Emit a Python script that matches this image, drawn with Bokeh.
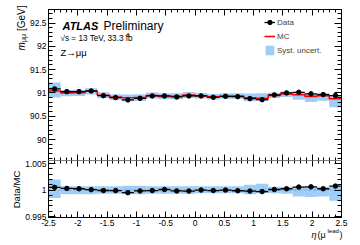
import numpy as np
from bokeh.plotting import figure
from bokeh.models import (LinearAxis, FixedTicker, CustomJSTickFormatter, Label,
                          Legend, LegendItem, ColumnDataSource, Range1d,
                          CustomLabelingPolicy)
from bokeh.layouts import column
from bokeh.embed import file_html
from bokeh.resources import INLINE

# ---------------- data ----------------
eta_edges = [-2.5, -2.2917, -2.0833, -1.875, -1.6667, -1.4583, -1.25, -1.0417,
             -0.8333, -0.625, -0.4167, -0.2083, 0.0, 0.2083, 0.4167, 0.625,
             0.8333, 1.0417, 1.25, 1.4583, 1.6667, 1.875, 2.0833, 2.2917, 2.5]
m_data = [91.086, 91.028, 91.028, 91.043, 90.942, 90.900, 90.850, 90.884,
          90.936, 90.936, 90.914, 90.936, 90.936, 90.906, 90.927, 90.920,
          90.878, 90.856, 90.957, 91.000, 91.013, 90.980, 90.964, 90.943]
m_mc = [91.040, 91.000, 91.006, 91.037, 90.950, 90.910, 90.895, 90.900,
        90.945, 90.927, 90.930, 90.954, 90.936, 90.915, 90.927, 90.932,
        90.896, 90.883, 90.948, 90.978, 90.962, 90.925, 90.942, 90.875]
syst_up = [0.0020, 0.0007, 0.0007, 0.0007, 0.0007, 0.0007, 0.0008, 0.0008,
           0.0007, 0.0007, 0.0007, 0.0007, 0.0007, 0.0007, 0.0007, 0.0007,
           0.0010, 0.0012, 0.0006, 0.0006, 0.0006, 0.0006, 0.0006, 0.0006]
syst_down = [0.0015, 0.0008, 0.0008, 0.0008, 0.0007, 0.0007, 0.0008, 0.0008,
             0.0007, 0.0007, 0.0007, 0.0007, 0.0006, 0.0006, 0.0006, 0.0006,
             0.0008, 0.0006, 0.0006, 0.0007, 0.0012, 0.0013, 0.0012, 0.0020]
x_ticks = [-2.5, -2, -1.5, -1, -0.5, 0, 0.5, 1, 1.5, 2, 2.5]
m_ticks = [90, 90.5, 91, 91.5, 92, 92.5]
r_ticks = [0.995, 1.0, 1.005]

# ---------------- derived ----------------
left = np.array(eta_edges[:-1]); right = np.array(eta_edges[1:])
center = 0.5 * (left + right)
d = np.array(m_data); mc = np.array(m_mc)
up = np.array(syst_up); dn = np.array(syst_down)
ratio = d / mc

FONT = "Liberation Sans"
BAND = "#9fcdf7"
X_AX = (-2.5, 2.5)          # visible axis extent
M_AX = (89.55, 92.79)
R_AX = (0.99482, 1.00557)

# canvas geometry (px): plot box x 48..341; top box y 9..160; ratio box y 160..217
W = 360
BOX_L, BOX_R = 48, 341
TOP_H, TOP_T = 160, 9
BOT_H, BOT_B = 85, 57
xpp = (X_AX[1] - X_AX[0]) / (BOX_R - BOX_L)
x_range = Range1d(X_AX[0] - BOX_L * xpp, X_AX[1] + (W - BOX_R) * xpp)
mpp = (M_AX[1] - M_AX[0]) / (TOP_H - TOP_T)
m_range = Range1d(M_AX[0], M_AX[1] + TOP_T * mpp)
rpp = (R_AX[1] - R_AX[0]) / BOT_B
r_range = Range1d(R_AX[0] - (BOT_H - BOT_B) * rpp, R_AX[1])

fmt_code = "return String(parseFloat(tick.toFixed(4)))"

def minor_list(lo, hi, step):
    n = int(round((hi - lo) / step))
    return [lo + i * step for i in range(n + 1)]

x_minor = minor_list(-2.5, 2.5, 0.1)

def add_axis(p, place, ticks, minors, major_in, minor_in, labels, fixed, bounds):
    ax = LinearAxis()
    ax.ticker = FixedTicker(ticks=ticks, minor_ticks=minors)
    ax.bounds = bounds
    ax.fixed_location = fixed
    ax.major_tick_in = major_in
    ax.major_tick_out = 0
    ax.minor_tick_in = minor_in
    ax.minor_tick_out = 0
    ax.axis_line_color = "black"
    ax.major_tick_line_color = "black"
    ax.minor_tick_line_color = "black"
    ax.axis_label = None
    ax.formatter = CustomJSTickFormatter(code=fmt_code)
    ax.major_label_text_font = FONT
    ax.major_label_text_font_size = "8.5px"
    ax.major_label_text_color = "black"
    ax.major_label_standoff = 2
    if not labels:
        ax.major_label_policy = CustomLabelingPolicy(
            code="for (const i of indices) indices.unset(i)")
    p.add_layout(ax, place)

def make_fig(h, y_range):
    p = figure(width=W, height=h, output_backend="svg", toolbar_location=None,
               x_range=x_range, y_range=y_range, min_border=0,
               x_axis_location=None, y_axis_location=None)
    p.outline_line_color = None
    p.grid.visible = False
    return p

def lab(p, text, x, y, size, style="normal", angle=0, align="left"):
    p.add_layout(Label(x=x, y=y, x_units="screen", y_units="screen", text=text,
                       text_font=FONT, text_font_size=size, text_font_style=style,
                       angle=angle, text_align=align, text_baseline="alphabetic",
                       text_color="black"))

# ---------------- top panel ----------------
top = make_fig(TOP_H, m_range)
band_src = ColumnDataSource(dict(left=left, right=right,
                                 bottom=mc * (1 - dn), top=mc * (1 + up)))
band_r = top.quad(left="left", right="right", bottom="bottom", top="top",
                  source=band_src, fill_color=BAND, line_color=None)
mc_r = top.step(x=list(eta_edges), y=list(mc) + [mc[-1]], mode="after",
                line_color="#ff0000", line_width=1.6)
dseg_r = top.segment(x0=left, x1=right, y0=d, y1=d, line_color="black", line_width=1.3)
ddot_r = top.scatter(x=center, y=d, size=4.5, marker="circle",
                     fill_color="black", line_color="black")
cross_r = top.scatter(x=[], y=[], marker="cross", size=8, line_color="black")

m_minor = minor_list(89.6, 92.7, 0.1)
add_axis(top, "left", m_ticks, m_minor, 7, 4, True, X_AX[0], M_AX)
add_axis(top, "right", m_ticks, m_minor, 7, 4, False, X_AX[1], M_AX)
add_axis(top, "above", x_ticks, x_minor, 6, 3, False, M_AX[1], X_AX)
add_axis(top, "below", x_ticks, x_minor, 6, 3, False, M_AX[0], X_AX)

legend = Legend(items=[LegendItem(label="Data", renderers=[dseg_r, ddot_r, cross_r]),
                       LegendItem(label="MC", renderers=[mc_r]),
                       LegendItem(label="Syst. uncert.", renderers=[band_r])],
                location=(264, 104), border_line_color=None, background_fill_alpha=0,
                label_text_font=FONT, label_text_font_size="8px", glyph_width=11,
                glyph_height=12, label_height=12, spacing=2, padding=0, margin=0,
                label_standoff=2)
top.add_layout(legend)

lab(top, "ATLAS", 62, 135, "11px", "bold italic")
lab(top, "Preliminary", 103, 135, "12px")
lab(top, "\u221as = 13 TeV, 33.3 fb", 60, 122, "8.2px")
lab(top, "-1", 124.5, 126, "5.5px")
lab(top, "Z\u2192\u03bc\u03bc", 60, 108, "9.5px")
# y title (rotated, reads bottom to top)
lab(top, "m", 21, 110, "10px", "italic", angle=np.pi / 2)
lab(top, "\u03bc\u03bc", 23, 118.5, "7px", angle=np.pi / 2)
lab(top, "[GeV]", 21, 129.5, "10px", angle=np.pi / 2)

# ---------------- ratio panel ----------------
bot = make_fig(BOT_H, r_range)
rband = ColumnDataSource(dict(left=left, right=right, bottom=1 - dn, top=1 + up))
bot.quad(left="left", right="right", bottom="bottom", top="top", source=rband,
         fill_color=BAND, line_color=None)
bot.line(x=[eta_edges[0], eta_edges[-1]], y=[1.0, 1.0], line_color="#6fa6e0",
         line_dash="3 2", line_width=1)
bot.segment(x0=left, x1=right, y0=ratio, y1=ratio, line_color="black", line_width=1.3)
bot.scatter(x=center, y=ratio, size=4.5, marker="circle", fill_color="black",
            line_color="black")

r_minor = minor_list(0.995, 1.005, 0.001)
add_axis(bot, "left", r_ticks, r_minor, 7, 4, True, X_AX[0], R_AX)
add_axis(bot, "right", r_ticks, r_minor, 7, 4, False, X_AX[1], R_AX)
add_axis(bot, "above", x_ticks, x_minor, 6, 3, False, R_AX[1], X_AX)
add_axis(bot, "below", x_ticks, x_minor, 6, 3, True, R_AX[0], X_AX)

lab(bot, "Data/MC", 16, 56, "9.5px", angle=np.pi / 2, align="center")
# x title
lab(bot, "\u03b7", 311, 11, "9px", "italic")
lab(bot, "(\u03bc", 317, 11, "9px")
lab(bot, "lead", 327, 15, "6px")
lab(bot, ")", 339, 11, "9px")

layout = column(top, bot, spacing=0)
open("out.html", "w").write(file_html(layout, INLINE))
